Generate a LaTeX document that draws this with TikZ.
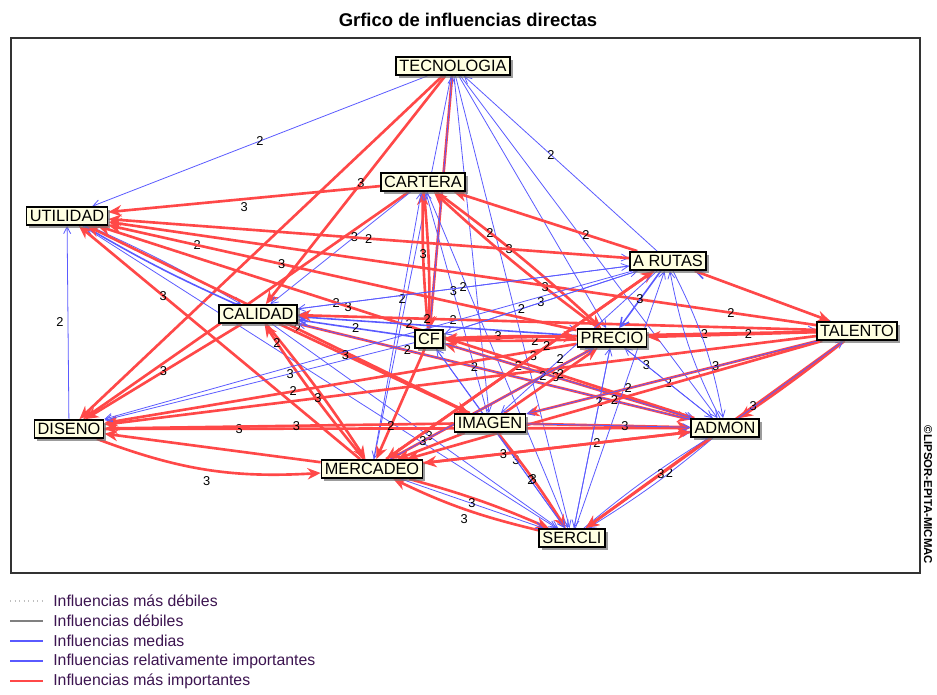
\documentclass[tikz,border=0pt]{standalone}
\usepackage{fontspec}
\setmainfont{Liberation Sans}
\usepackage{tikz}
\usetikzlibrary{arrows.meta,shadows,backgrounds}
\definecolor{rojo}{HTML}{FF4848}
\definecolor{azul}{HTML}{5A5AFF}
\definecolor{crema}{HTML}{FFFFE2}
\definecolor{leyenda}{HTML}{3C1450}

\tikzset{
  var/.style={draw=black,line width=0.9pt,fill=crema,inner sep=1.9pt,
    font=\fontsize{9.3}{10}\selectfont,
    drop shadow={shadow xshift=1.6pt,shadow yshift=-1.6pt,fill=black!55,opacity=.7}},
  media/.style={draw=azul,line width=0.45pt,-{Straight Barb[length=4pt,width=4pt]}},
  relativa/.style={draw=azul,line width=0.9pt,-{Straight Barb[length=5pt,width=5pt]}},
  fuerte/.style={draw=rojo,line width=1.5pt,-{Stealth[length=7.5pt,width=6.5pt]}},
  lbl/.style={font=\fontsize{7.3}{8}\selectfont,inner sep=0.4pt,text=black},
}

\begin{document}
\begin{tikzpicture}[x=0.02cm,y=-0.02cm]
\useasboundingbox (0,0) rectangle (937,694);
\node[font=\fontsize{10.5}{12}\selectfont\bfseries] (titulo) at (468,20) {Grfico de influencias directas};

% Variables
\node[var] (tec) at (453,66) {TECNOLOGIA};
\node[var] (car) at (423,182) {CARTERA};
\node[var] (uti) at (67,216) {UTILIDAD};
\node[var] (rut) at (668,261) {A RUTAS};
\node[var] (cal) at (258,314) {CALIDAD};
\node[var] (cf) at (429,339) {CF};
\node[var] (pre) at (612,338) {PRECIO};
\node[var] (tal) at (857,331) {TALENTO};
\node[var] (dis) at (69,429) {DISENO};
\node[var] (ima) at (490,423) {IMAGEN};
\node[var] (adm) at (725,428) {ADMON};
\node[var] (mer) at (372,469) {MERCADEO};
\node[var] (ser) at (572,538) {SERCLI};

\node[rotate=-90,font=\fontsize{6.5}{7}\selectfont\bfseries] (marca) at (928,495) {©LIPSOR-EPITA-MICMAC};

\begin{scope}[on background layer]
\fill[white] (0,0) rectangle (937,694);
\draw[black!80,line width=0.8pt] (11,38) rectangle (920,573);

% Influencias desde TECNOLOGIA
\draw[media] (tec) -- node[lbl,pos=.5]{2} (uti);
\draw[fuerte] (tec) -- (dis);
\draw[fuerte] (tec) -- node[lbl,pos=.47]{3} (cal);
\draw[fuerte] (tec) -- (cf);
\draw[media] (tec) -- (mer);
\draw[media] (tec) -- (ima);
\draw[media] (tec) -- (pre);
\draw[media] (tec) -- (ser);
\draw[media] (tec) -- (adm);
\draw[media] (rut) -- node[lbl,pos=.55]{2} (tec);
\draw[media] (cf) -- (tec);

% CARTERA
\draw[fuerte] (car) -- node[lbl,pos=.5,below=1pt]{3} (uti);
\draw[fuerte] (car) to[bend left=3] (cf);
\draw[fuerte] (cf) to[bend left=3] node[lbl,pos=.55]{3} (car);
\draw[fuerte] (car) to[bend left=3] node[lbl,pos=.3]{2} (pre);
\draw[fuerte] (pre) to[bend left=3] node[lbl,pos=.3]{3} (car);
\draw[fuerte] (rut) -- node[lbl,pos=.28]{2} (car);
\draw[fuerte] (car) -- (dis);
\draw[media] (car) -- node[lbl,pos=.4]{3} (cal);
\draw[media] (mer) -- node[lbl,pos=.6]{2} (car);
\draw[media] (car) -- (ser);
\draw[media] (ima) -- node[lbl,pos=.55]{3} (car);

% UTILIDAD
\draw[media] (uti) to[bend left=3] (cal);
\draw[relativa] (cal) to[bend left=3] (uti);
\draw[media] (uti) -- node[lbl,pos=.77]{3} (rut);
\draw[media] (uti) -- node[lbl,pos=.4]{2} (adm);
\draw[media] (uti) -- node[lbl,pos=.19]{2} (pre);
\draw[media] (uti) -- (ser);
\draw[fuerte] (tal) -- node[lbl,pos=.12]{2} (uti);
\draw[fuerte] (rut) -- node[lbl,pos=.5]{2} (uti);
\draw[fuerte] (pre) -- node[lbl,pos=.63]{3} (uti);
\draw[fuerte] (adm) -- node[lbl,pos=.58]{3} (uti);
\draw[fuerte] (mer) -- node[lbl,pos=.7]{3} (uti);
\draw[fuerte] (ima) -- node[lbl,pos=.45]{2} (uti);
\draw[media] (dis) -- node[lbl,pos=.5,left=2pt]{2} (uti);

% CALIDAD
\draw[fuerte] (cal) -- node[lbl,pos=.5]{3} (dis);
\draw[fuerte] (cal) to[bend left=3] (mer);
\draw[fuerte] (mer) to[bend left=3] node[lbl,pos=.88]{2} (cal);
\draw[fuerte] (cal) -- node[lbl,pos=.45]{2} (adm);
\draw[fuerte] (cal) -- node[lbl,pos=.35]{3} (ima);
\draw[media] (cal) -- node[lbl,pos=.55]{3} (ser);
\draw[media] (cal) -- (rut);
\draw[media] (cal) -- node[lbl,pos=.3]{2} (tal);
\draw[relativa] (pre) -- node[lbl,pos=.6]{2} (cal);
\draw[media] (rut) -- node[lbl,pos=.5]{2} (cal);
\draw[media] (tal) -- (cal);
\draw[media] (adm) -- node[lbl,pos=.72]{2} (cal);
\draw[relativa] (cf) -- node[lbl,pos=.5]{2} (cal);
\draw[fuerte] (tal) -- node[lbl,pos=.75]{2} (cal);

% DISENO
\draw[fuerte] (dis) to[bend right=12] node[lbl,pos=.5,below=3pt]{3} (mer);
\draw[fuerte] (mer) -- (dis);
\draw[fuerte] (dis) -- node[lbl,pos=.23]{3} (adm);
\draw[fuerte] (ima) -- node[lbl,pos=.45]{3} (dis);
\draw[fuerte] (tal) -- node[lbl,pos=.7]{3} (dis);
\draw[fuerte] (pre) -- node[lbl,pos=.6]{2} (dis);
\draw[media] (cf) -- node[lbl,pos=.4]{3} (dis);
\draw[media] (rut) -- (dis);

% CF
\draw[fuerte] (cf) to[bend left=2] node[lbl,pos=.4]{3} (pre);
\draw[fuerte] (pre) to[bend left=2] node[lbl,pos=.3]{2} (cf);
\draw[fuerte] (cf) -- node[lbl,pos=.7]{2} (mer);
\draw[fuerte] (tal) -- node[lbl,pos=.3]{2} (cf);
\draw[fuerte] (adm) -- node[lbl,pos=.55]{3} (cf);
\draw[media] (cf) -- node[lbl,pos=.62]{3} (ser);
\draw[media] (cf) -- node[lbl,pos=.3]{2} (adm);
\draw[media] (cf) -- node[lbl,pos=.5]{3} (rut);
\draw[media] (rut) -- node[lbl,pos=.6]{2} (cf);
\draw[media] (ima) -- (cf);

% PRECIO
\draw[fuerte] (tal) -- node[lbl,pos=.4]{2} (pre);
\draw[fuerte] (pre) -- node[lbl,pos=.25]{2} (mer);
\draw[fuerte] (ima) -- node[lbl,pos=.6]{2} (pre);
\draw[media] (pre) -- (ser);
\draw[media] (mer) -- (pre);
\draw[media] (adm) -- node[lbl,pos=.75]{3} (pre);
\draw[relativa] (rut) -- node[lbl,pos=.5]{3} (pre);
\draw[media] (pre) -- node[lbl,pos=.5]{2} (adm);
\draw[media] (ser) -- node[lbl,pos=.7]{2} (pre);

% A RUTAS
\draw[fuerte] (rut) -- node[lbl,pos=.45]{3} (mer);
\draw[fuerte] (mer) -- node[lbl,pos=.6]{2} (rut);
\draw[media] (rut) to[bend left=8] (adm);
\draw[media] (adm) to[bend left=8] (rut);
\draw[media] (rut) -- node[lbl,pos=.62]{2} (ima);
\draw[relativa] (tal) -- (rut);
\draw[fuerte] (rut) -- (tal);
\draw[media] (ser) -- (rut);

% TALENTO
\draw[fuerte] (tal) -- node[lbl,pos=.35]{3} (ima);
\draw[fuerte] (tal) -- node[lbl,pos=.5]{2} (mer);
\draw[fuerte] (tal) to[bend left=2] (adm);
\draw[fuerte] (tal) -- node[lbl,pos=.35]{3} (ser);
\draw[media] (adm) -- (tal);
\draw[media] (tal) -- node[lbl,pos=.65]{2} (ima);

% IMAGEN
\draw[fuerte] (ima) -- node[lbl,pos=.62,above=1pt]{3} (mer);
\draw[fuerte] (ima) to[bend left=3] node[lbl,pos=.5]{3} (ser);
\draw[fuerte] (ima) -- node[lbl,pos=.6]{3} (adm);
\draw[media] (ima) -- node[lbl,pos=.5]{2} (ser);
\draw[media] (ima) -- (adm);

% ADMON
\draw[fuerte] (adm) -- node[lbl,pos=.35]{2} (mer);
\draw[media] (adm) to[bend left=4] node[lbl,pos=.35]{2} (ser);
\draw[media] (ser) to[bend left=4] (adm);
\draw[fuerte] (adm) -- node[lbl,pos=.4]{3} (ser);

% MERCADEO y SERCLI
\draw[fuerte] (mer) to[bend left=4] (ser);
\draw[fuerte] (ser) to[bend left=6] node[lbl,pos=.5,below=2pt]{3} (mer);
\draw[media] (mer) -- node[lbl,pos=.5]{3} (ser);
\draw[media] (mer) -- (adm);
\draw[fuerte] (mer) -- node[lbl,pos=.3]{3} (adm);
\end{scope}

% Leyenda
\draw[gray!50,dotted,line width=0.6pt] (10,601) -- (43,601);
\draw[gray,line width=0.6pt] (10,621) -- (43,621);
\draw[azul,line width=0.6pt] (10,641) -- (43,641);
\draw[azul,line width=1.3pt] (10,661) -- (43,661);
\draw[rojo,line width=1.3pt] (10,681) -- (43,681);
\node[anchor=west,text=leyenda,font=\fontsize{9}{10}\selectfont,inner sep=0pt] (l1) at (53,601) {Influencias más débiles};
\node[anchor=west,text=leyenda,font=\fontsize{9}{10}\selectfont,inner sep=0pt] (l2) at (53,621) {Influencias débiles};
\node[anchor=west,text=leyenda,font=\fontsize{9}{10}\selectfont,inner sep=0pt] (l3) at (53,641) {Influencias medias};
\node[anchor=west,text=leyenda,font=\fontsize{9}{10}\selectfont,inner sep=0pt] (l4) at (53,661) {Influencias relativamente importantes};
\node[anchor=west,text=leyenda,font=\fontsize{9}{10}\selectfont,inner sep=0pt] (l5) at (53,681) {Influencias más importantes};
\end{tikzpicture}
\end{document}
